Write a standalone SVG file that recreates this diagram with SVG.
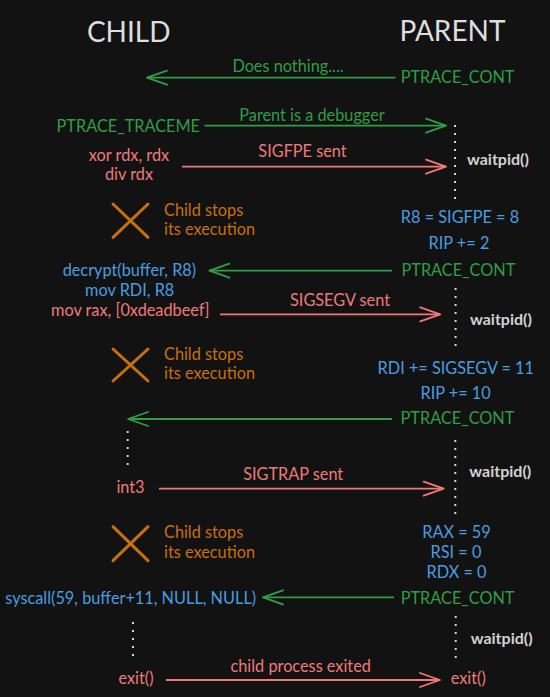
<svg xmlns="http://www.w3.org/2000/svg" width="550" height="697" viewBox="0 0 550 697">
<defs>
<marker id="ag" markerUnits="userSpaceOnUse" markerWidth="30" markerHeight="20" viewBox="-22 -10 24 20" refX="0" refY="0" orient="auto"><path d="M-20,-7 L0,0 L-20,7" fill="none" stroke="#2f9e44" stroke-width="1.8" stroke-linecap="round" stroke-linejoin="round"/></marker>
<marker id="ar" markerUnits="userSpaceOnUse" markerWidth="30" markerHeight="20" viewBox="-22 -10 24 20" refX="0" refY="0" orient="auto"><path d="M-20,-7 L0,0 L-20,7" fill="none" stroke="#f07a7a" stroke-width="1.8" stroke-linecap="round" stroke-linejoin="round"/></marker>
</defs>
<style>
text{font-family:Lato,"Noto Sans","Liberation Sans",sans-serif;font-size:16.3px}
.t{font-size:28px;fill:#dedede;text-anchor:middle}
.g{fill:#2f9e44}
.r{fill:#f07a7a}
.b{fill:#4a9de0}
.o{fill:#c8700a}
.w{fill:#d2d2d2;font-size:16px;font-weight:bold}
.m{text-anchor:middle}
.e{text-anchor:end}
.lg{stroke:#2f9e44;stroke-width:1.8;fill:none;marker-end:url(#ag)}
.lr{stroke:#f07a7a;stroke-width:1.8;fill:none;marker-end:url(#ar)}
.d{stroke:#d8d8d8;stroke-width:2;stroke-dasharray:2 6;fill:none}
.x{stroke:#c8700a;stroke-width:3;stroke-linecap:round;fill:none}
</style>
<rect width="550" height="697" fill="#121212"/>
<g id="child-title"><text class="t" x="128.7" y="42">CHILD</text></g>
<g id="parent-title"><text class="t" x="452.5" y="41">PARENT</text></g>

<g id="connectors">
<line class="lg" x1="395.5" y1="77.7" x2="147" y2="77.7"/>
<line class="lg" x1="204.5" y1="125.7" x2="446" y2="125.7"/>
<line class="lr" x1="182" y1="166.7" x2="446" y2="166.7"/>
<line class="lg" x1="392" y1="270.7" x2="209.4" y2="270.7"/>
<line class="lr" x1="220" y1="314.3" x2="440.2" y2="314.3"/>
<line class="lg" x1="392" y1="419" x2="128" y2="419"/>
<line class="lr" x1="159" y1="488.7" x2="443.7" y2="488.7"/>
<line class="lg" x1="394" y1="597.3" x2="263" y2="597.3"/>
<line class="lr" x1="166" y1="680" x2="440" y2="680"/>
<text class="g m" x="288" y="72.3">Does nothing....</text>
<text class="g m" x="312" y="120.7">Parent is a debugger</text>
<text class="r m" x="302.5" y="157.3">SIGFPE sent</text>
<text class="r m" x="340" y="306">SIGSEGV sent</text>
<text class="r m" x="293.2" y="480">SIGTRAP sent</text>
<text class="r m" x="300.7" y="671.7">child process exited</text>
</g>

<g id="parent-timeline">
<line class="d" x1="455" y1="125" x2="455" y2="201"/>
<line class="d" x1="455.6" y1="288" x2="455.6" y2="350"/>
<line class="d" x1="455.3" y1="440" x2="455.3" y2="517"/>
<line class="d" x1="455.7" y1="616" x2="455.7" y2="663"/>
</g>
<g id="child-timeline">
<line class="d" x1="127.7" y1="431" x2="127.7" y2="471"/>
<line class="d" x1="133" y1="622" x2="133" y2="661"/>
</g>

<g id="ptrace-cont-1"><text class="g" x="400.7" y="83.3">PTRACE_CONT</text></g>
<g id="ptrace-traceme"><text class="g e" x="200" y="131.7">PTRACE_TRACEME</text></g>
<g id="waitpid-1"><text class="w" x="467" y="164.7">waitpid()</text></g>
<g id="xor-div"><text class="r m" x="129" y="160.7">xor rdx, rdx</text><text class="r m" x="129" y="180">div rdx</text></g>
<g id="stop-1"><path class="x" d="M113,204 L148,237.3 M148,204 L113,237.3"/><text class="o" x="164" y="215.5">Child stops</text><text class="o" x="164" y="235">its execution</text></g>
<g id="regs-1"><text class="b m" x="460" y="223.3">R8 = SIGFPE = 8</text><text class="b m" x="459" y="249.3">RIP += 2</text></g>

<g id="decrypt"><text class="b m" x="129.4" y="276">decrypt(buffer, R8)</text><text class="b m" x="129.7" y="295.7">mov RDI, R8</text><text class="r m" x="130.3" y="315.7">mov rax, [0xdeadbeef]</text></g>
<g id="ptrace-cont-2"><text class="g" x="401.5" y="275.7">PTRACE_CONT</text></g>
<g id="waitpid-2"><text class="w" x="470" y="325">waitpid()</text></g>
<g id="stop-2"><path class="x" d="M113,349 L148,381 M148,349 L113,381"/><text class="o" x="164" y="360">Child stops</text><text class="o" x="164" y="379.3">its execution</text></g>
<g id="regs-2"><text class="b m" x="455.8" y="374">RDI += SIGSEGV = 11</text><text class="b m" x="455.6" y="399.3">RIP += 10</text></g>

<g id="ptrace-cont-3"><text class="g" x="400.6" y="424.3">PTRACE_CONT</text></g>
<g id="waitpid-3"><text class="w" x="469.3" y="477.3">waitpid()</text></g>
<g id="int3"><text class="r m" x="130.5" y="493.3">int3</text></g>
<g id="stop-3"><path class="x" d="M113,526.7 L148,560.7 M148,526.7 L113,560.7"/><text class="o" x="164" y="538.3">Child stops</text><text class="o" x="164" y="557.7">its execution</text></g>
<g id="regs-3"><text class="b m" x="456.5" y="538.3">RAX = 59</text><text class="b m" x="456" y="558.3">RSI = 0</text><text class="b m" x="456.5" y="578.3">RDX = 0</text></g>

<g id="syscall"><text class="b m" x="130.7" y="603.5">syscall(59, buffer+11, NULL, NULL)</text></g>
<g id="ptrace-cont-4"><text class="g" x="400.7" y="604.3">PTRACE_CONT</text></g>
<g id="waitpid-4"><text class="w" x="470.7" y="644.3">waitpid()</text></g>
<g id="exit-child"><text class="r m" x="136" y="684">exit()</text></g>
<g id="exit-parent"><text class="r" x="450.7" y="684">exit()</text></g>
</svg>
